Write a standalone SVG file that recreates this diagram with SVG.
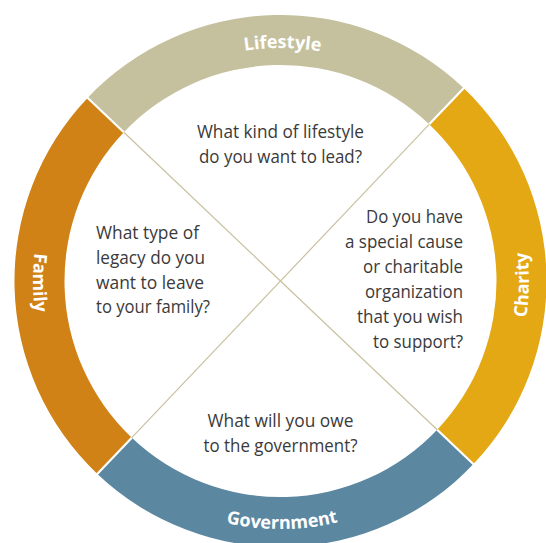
<svg xmlns="http://www.w3.org/2000/svg" width="546" height="543" viewBox="0 0 546 543">
  <style>
    .lbl { font-family: "Open Sans", "Noto Sans", "Liberation Sans", sans-serif; font-weight: 700; font-size: 18px; fill: #ffffff; }
    .q { font-family: "Open Sans", "Noto Sans", "Liberation Sans", sans-serif; font-weight: 400; font-size: 18.5px; fill: #3a3a3a; }
    .gap { stroke: #ffffff; stroke-width: 2.2; fill: none; }
    .div { stroke: #c9c1a0; stroke-width: 1.2; fill: none; }
  </style>
  <defs>
    <path id="pLifestyle" d="M79.75,162.75 A233,233 0 0 1 483.3,166.3"/>
    <path id="pGovernment" d="M66.6,406.5 A248,248 0 0 0 496.1,403.5"/>
    <path id="pFamily" d="M155.3,67.5 A247.5,247.5 0 0 0 158.3,496.2"/>
    <path id="pCharity" d="M401.3,498.1 A248.5,248.5 0 0 0 408.1,67.8"/>
  </defs>
  <rect width="546" height="543" fill="#ffffff"/>

  <g id="lifestyle">
    <path d="M87.54,97.89 A266,266 0 0 1 463.61,88.04 L429.19,124.31 A216,216 0 0 0 123.81,132.31 Z" fill="#c5c19e"/>
    <text class="lbl"><textPath href="#pLifestyle" startOffset="50%" text-anchor="middle">Lifestyle</textPath></text>
  </g>
  <g id="charity">
    <path d="M463.61,88.04 A266,266 0 0 1 473.46,464.11 L437.19,429.69 A216,216 0 0 0 429.19,124.31 Z" fill="#e3a814"/>
    <text class="lbl"><textPath href="#pCharity" startOffset="50%" text-anchor="middle">Charity</textPath></text>
  </g>
  <g id="government">
    <path d="M473.46,464.11 A266,266 0 0 1 97.39,473.96 L131.81,437.69 A216,216 0 0 0 437.19,429.69 Z" fill="#5b87a1"/>
    <text class="lbl"><textPath href="#pGovernment" startOffset="50%" text-anchor="middle">Government</textPath></text>
  </g>
  <g id="family">
    <path d="M97.39,473.96 A266,266 0 0 1 87.54,97.89 L123.81,132.31 A216,216 0 0 0 131.81,437.69 Z" fill="#d08216"/>
    <text class="lbl"><textPath href="#pFamily" startOffset="50%" text-anchor="middle">Family</textPath></text>
  </g>

  <g id="connectors">
    <line class="gap" x1="123.81" y1="132.31" x2="85.4" y2="95.8"/>
    <line class="gap" x1="429.19" y1="124.31" x2="465.8" y2="85.9"/>
    <line class="gap" x1="437.19" y1="429.69" x2="475.6" y2="466.2"/>
    <line class="gap" x1="131.81" y1="437.69" x2="95.3" y2="476.1"/>
    <line class="div" x1="123.81" y1="132.31" x2="437.19" y2="429.69"/>
    <line class="div" x1="429.19" y1="124.31" x2="131.81" y2="437.69"/>
  </g>

  <g id="q-lifestyle">
    <text class="q" x="280.5" y="138" text-anchor="middle" textLength="167" lengthAdjust="spacingAndGlyphs">What kind of lifestyle</text>
    <text class="q" x="280.5" y="163" text-anchor="middle" textLength="163" lengthAdjust="spacingAndGlyphs">do you want to lead?</text>
  </g>
  <g id="q-family">
    <text class="q" x="96" y="239" textLength="103" lengthAdjust="spacingAndGlyphs">What type of</text>
    <text class="q" x="96" y="264" textLength="109" lengthAdjust="spacingAndGlyphs">legacy do you</text>
    <text class="q" x="96" y="288.5" textLength="108" lengthAdjust="spacingAndGlyphs">want to leave</text>
    <text class="q" x="96" y="313" textLength="114" lengthAdjust="spacingAndGlyphs">to your family?</text>
  </g>
  <g id="q-charity">
    <text class="q" x="463" y="223" text-anchor="end" textLength="97" lengthAdjust="spacingAndGlyphs">Do you have</text>
    <text class="q" x="463" y="248" text-anchor="end" textLength="118" lengthAdjust="spacingAndGlyphs">a special cause</text>
    <text class="q" x="463" y="273" text-anchor="end" textLength="100" lengthAdjust="spacingAndGlyphs">or charitable</text>
    <text class="q" x="463" y="298" text-anchor="end" textLength="98" lengthAdjust="spacingAndGlyphs">organization</text>
    <text class="q" x="463" y="323" text-anchor="end" textLength="106" lengthAdjust="spacingAndGlyphs">that you wish</text>
    <text class="q" x="463" y="348" text-anchor="end" textLength="90" lengthAdjust="spacingAndGlyphs">to support?</text>
  </g>
  <g id="q-government">
    <text class="q" x="280.5" y="427" text-anchor="middle" textLength="146" lengthAdjust="spacingAndGlyphs">What will you owe</text>
    <text class="q" x="280.5" y="452" text-anchor="middle" textLength="154" lengthAdjust="spacingAndGlyphs">to the government?</text>
  </g>
</svg>
